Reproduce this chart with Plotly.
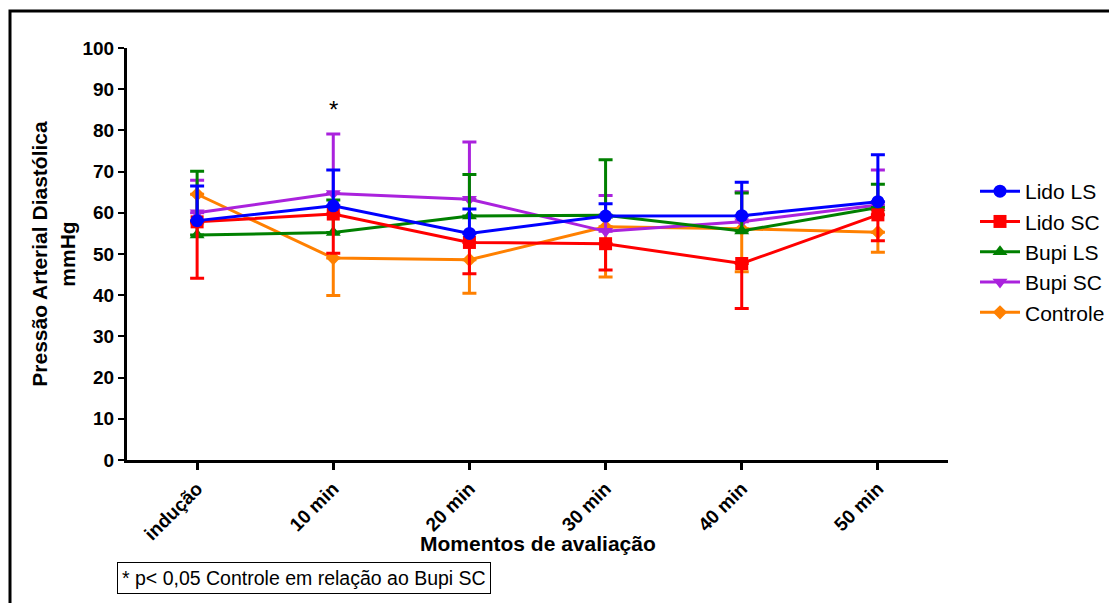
import plotly.graph_objects as go

categories = ["indução", "10 min", "20 min", "30 min", "40 min", "50 min"]
series_names = ["Lido LS", "Lido SC", "Bupi LS", "Bupi SC", "Controle"]

lido_ls = [58.1, 61.7, 55.0, 59.2, 59.3, 62.7]
lido_ls_plus = [8.4, 8.7, 5.9, 3.0, 8.1, 11.4]
lido_ls_minus = [0, 0, 0, 0, 0, 0]

lido_sc = [57.8, 59.7, 52.8, 52.5, 47.7, 59.5]
lido_sc_plus = [0, 0, 0, 0, 0, 0]
lido_sc_minus = [13.7, 9.5, 7.6, 6.4, 10.9, 6.3]

bupi_ls = [54.6, 55.2, 59.2, 59.4, 55.6, 61.3]
bupi_ls_plus = [15.5, 7.9, 10.1, 13.5, 9.2, 5.6]
bupi_ls_minus = [0, 0, 0, 0, 0, 0]

bupi_sc = [60.0, 64.7, 63.3, 55.5, 57.8, 61.9]
bupi_sc_plus = [7.9, 14.4, 13.9, 8.7, 7.3, 8.5]
bupi_sc_minus = [0, 0, 0, 0, 0, 0]

controle = [64.5, 49.0, 48.6, 56.6, 56.1, 55.3]
controle_plus = [0, 0, 0, 0, 0, 0]
controle_minus = [7.0, 9.1, 8.1, 12.2, 10.4, 4.9]

y_ticks = [0, 10, 20, 30, 40, 50, 60, 70, 80, 90, 100]
star_category = "10 min"
star_value = 85

colors = ["#0000FF", "#FF0000", "#008000", "#AA22DD", "#FF8000"]
symbols = ["circle", "square", "triangle-up", "triangle-down", "diamond"]
sizes = [13, 13, 13, 13, 11]
values = [lido_ls, lido_sc, bupi_ls, bupi_sc, controle]
plus = [lido_ls_plus, lido_sc_plus, bupi_ls_plus, bupi_sc_plus, controle_plus]
minus = [lido_ls_minus, lido_sc_minus, bupi_ls_minus, bupi_sc_minus, controle_minus]

xpos = list(range(len(categories)))

fig = go.Figure()
for i in reversed(range(len(series_names))):
    fig.add_trace(go.Scatter(
        x=xpos, y=values[i], name=series_names[i],
        mode="lines+markers",
        line=dict(color=colors[i], width=3),
        marker=dict(symbol=symbols[i], size=sizes[i], color=colors[i]),
        error_y=dict(type="data", symmetric=False, array=plus[i], arrayminus=minus[i],
                     color=colors[i], thickness=3, width=7),
        legendrank=i + 1,
    ))

fig.add_annotation(x=categories.index(star_category), y=star_value, text="*",
                   showarrow=False, font=dict(family="Liberation Sans", size=24, color="black"))

L, R, T, B = 127, 161, 48, 143
W, H = 1109, 603
pw, ph = W - L - R, H - T - B

def px(x):
    return (x - L) / pw

def py(y):
    return (H - B - y) / ph

fig.add_annotation(xref="paper", yref="paper", x=0.5, y=py(543), xanchor="center", yanchor="middle",
                   text="<b>Momentos de avaliação</b>", showarrow=False,
                   font=dict(family="Liberation Sans", size=21, color="black"))

fig.add_annotation(xref="paper", yref="paper", x=px(117), y=py(562), xanchor="left", yanchor="top",
                   text="* p< 0,05 Controle em relação ao Bupi SC", showarrow=False,
                   font=dict(family="Liberation Sans", size=19.5, color="black"),
                   bordercolor="black", borderwidth=1, borderpad=4, bgcolor="white")

fig.add_shape(type="path", xref="paper", yref="paper",
              path=f"M {px(1120)},{py(11)} L {px(10)},{py(11)} L {px(10)},{py(620)}",
              line=dict(color="black", width=3))

fig.update_layout(
    width=W, height=H,
    margin=dict(l=L, r=R, t=T, b=B, autoexpand=False),
    plot_bgcolor="white", paper_bgcolor="white",
    font=dict(family="Liberation Sans", color="black"),
    showlegend=True,
    legend=dict(xref="container", yref="container", x=975 / W, y=1 - 171 / H,
                xanchor="left", yanchor="top",
                font=dict(family="Liberation Sans", size=21, color="black"),
                tracegroupgap=0, itemwidth=40, bgcolor="rgba(0,0,0,0)"),
    xaxis=dict(range=[-0.515, 5.515], tickmode="array", tickvals=xpos, ticktext=categories,
               tickangle=-45, showgrid=False, zeroline=False, showline=True,
               linecolor="black", linewidth=3, ticks="outside", ticklen=7, tickwidth=3,
               tickcolor="black",
               tickfont=dict(family="Liberation Sans", size=19, color="black", weight="bold")),
    yaxis=dict(range=[0, 100], tickmode="array", tickvals=y_ticks, showgrid=False,
               zeroline=False, showline=True, linecolor="black", linewidth=3,
               ticks="outside", ticklen=6, tickwidth=2, tickcolor="black",
               tickfont=dict(family="Liberation Sans", size=19, color="black", weight="bold"),
               title=dict(text="<b>Pressão Arterial Diastólica<br>mmHg</b>", standoff=2,
                          font=dict(family="Liberation Sans", size=21, color="black"))),
)

fig.write_html("out.html")
